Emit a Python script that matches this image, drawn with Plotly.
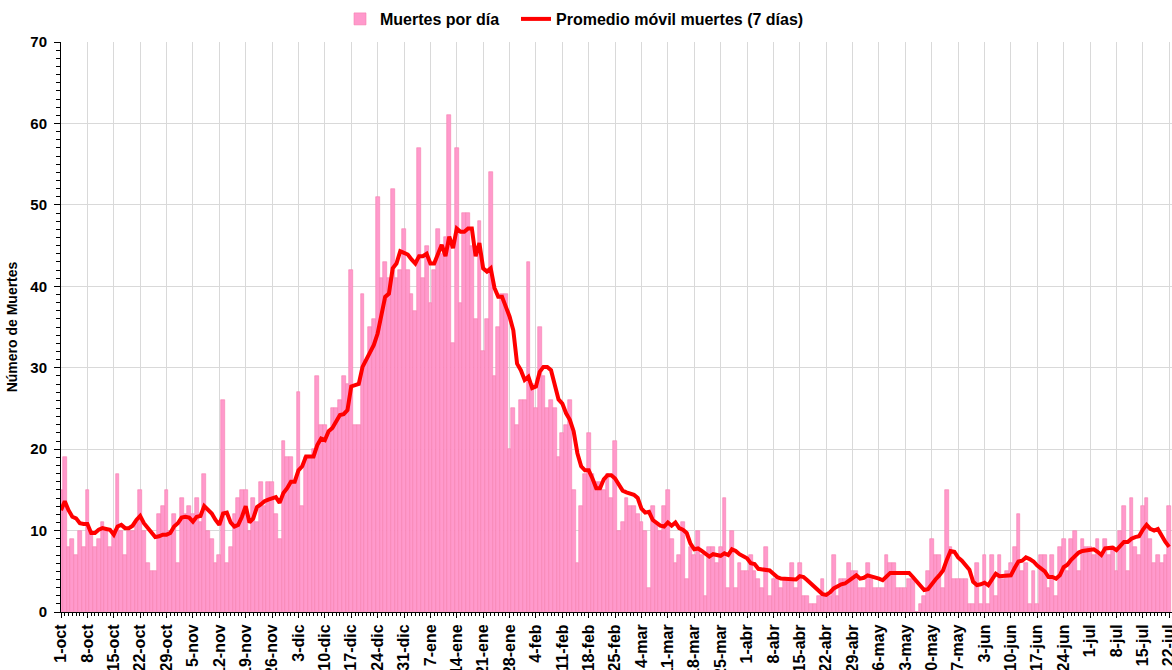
import pandas as pd
import plotly.graph_objects as go

start_date = "2020-10-01"

deaths_per_day = [
    15, 19, 8, 9, 7, 10, 8, 15, 10, 8,
    9, 11, 10, 8, 10, 17, 10, 7, 10, 10,
    11, 15, 10, 6, 5, 5, 12, 13, 15, 10,
    12, 6, 14, 12, 13, 12, 14, 11, 17, 10,
    9, 6, 7, 26, 6, 8, 12, 14, 15, 15,
    10, 14, 11, 16, 13, 16, 16, 12, 9, 21,
    19, 19, 16, 27, 13, 19, 19, 20, 29, 23,
    23, 22, 25, 25, 26, 29, 28, 42, 23, 23,
    39, 31, 35, 36, 51, 41, 43, 41, 52, 41,
    42, 47, 42, 39, 37, 57, 41, 45, 38, 42,
    47, 44, 46, 61, 33, 57, 38, 49, 49, 45,
    36, 48, 32, 36, 54, 29, 35, 39, 39, 20,
    25, 23, 26, 26, 43, 28, 25, 35, 29, 25,
    26, 25, 19, 22, 23, 26, 15, 6, 13, 17,
    22, 17, 16, 16, 15, 17, 14, 21, 10, 11,
    14, 13, 13, 12, 11, 10, 3, 13, 11, 10,
    13, 15, 9, 6, 7, 11, 4, 8, 7, 10,
    7, 2, 8, 8, 6, 8, 14, 3, 10, 3,
    6, 5, 5, 7, 5, 4, 3, 8, 2, 4,
    4, 3, 4, 4, 6, 3, 6, 2, 2, 1,
    1, 2, 4, 2, 2, 7, 2, 4, 4, 6,
    5, 5, 3, 3, 6, 4, 3, 3, 3, 7,
    6, 6, 3, 3, 3, 4, 4, 0, 1, 2,
    5, 9, 7, 7, 3, 15, 8, 4, 4, 4,
    4, 1, 1, 6, 1, 7, 1, 7, 2, 7,
    4, 5, 6, 8, 12, 5, 6, 1, 5, 1,
    7, 7, 3, 7, 2, 8, 9, 5, 9, 10,
    5, 9, 8, 8, 7, 9, 7, 9, 7, 8,
    5, 10, 13, 5, 14, 8, 7, 13, 14, 9,
    6, 7, 6, 7, 13,
]

moving_avg_7d = [
    12.5, 13.6, 12.5, 11.7, 11.5, 10.9, 10.8, 10.8, 9.7, 9.7,
    10.1, 10.3, 10.2, 10.1, 9.5, 10.5, 10.7, 10.3, 10.3, 10.6,
    11.3, 11.8, 10.9, 10.3, 9.9, 9.2, 9.3, 9.5, 9.5, 9.7,
    10.5, 10.9, 11.6, 11.7, 11.6, 11.1, 11.7, 11.8, 13.0, 12.6,
    12.1, 11.3, 10.7, 12.1, 12.2, 11.0, 10.5, 10.7, 11.7, 13.0,
    11.0, 11.5, 12.9, 13.2, 13.6, 13.8, 14.0, 14.1, 13.4, 14.6,
    15.2, 16.0, 16.0, 17.4, 17.9, 19.1, 19.1, 19.1, 20.5, 21.3,
    21.1, 22.2, 22.6, 23.4, 24.2, 24.3, 24.8, 27.7, 27.8, 28.0,
    30.1, 31.0, 31.8, 32.8, 34.2, 36.3, 38.7, 39.1, 42.2, 42.8,
    44.3, 44.1, 43.9, 43.3, 42.8, 43.7, 43.7, 44.0, 42.8, 42.8,
    44.0, 45.1, 43.7, 46.1, 44.7, 47.1, 46.7, 46.7, 47.1, 47.1,
    43.7, 45.3, 42.2, 41.8, 42.2, 39.8, 38.7, 38.7, 37.5, 36.3,
    34.6, 30.5, 29.7, 28.5, 28.9, 27.5, 27.7, 29.5, 30.1, 30.1,
    29.7, 27.7, 26.1, 25.6, 24.4, 23.6, 22.2, 19.5, 17.9, 17.4,
    17.4, 16.4, 15.2, 15.2, 16.3, 16.8, 16.8, 16.4, 15.6, 14.9,
    14.7, 14.6, 14.4, 14.0, 12.7, 12.2, 12.3, 11.3, 10.9, 10.6,
    10.5, 11.0, 10.6, 11.0, 10.3, 10.1, 9.7, 8.4, 7.7, 7.8,
    7.5, 7.2, 6.8, 7.1, 7.0, 6.9, 7.2, 7.0, 7.7, 7.5,
    7.1, 6.9, 6.6, 6.0, 5.9, 5.3, 5.2, 5.2, 5.1, 4.7,
    4.3, 4.1, 4.1, 4.1, 4.1, 4.0, 4.4, 4.3, 3.9, 3.5,
    3.0, 2.6, 2.2, 2.1, 2.4, 2.9, 3.2, 3.4, 3.5, 3.8,
    4.1, 4.5, 4.1, 4.2, 4.5, 4.4, 4.2, 4.1, 3.9, 4.4,
    4.8, 4.8, 4.8, 4.8, 4.8, 4.8, 4.3, 3.7, 3.3, 2.7,
    2.8, 3.5, 4.0, 4.5, 5.1, 6.4, 7.5, 7.4, 6.7, 6.3,
    5.8, 5.2, 3.7, 3.3, 3.4, 3.6, 3.3, 3.9, 4.7, 4.4,
    4.4, 4.5, 4.5, 5.4, 6.2, 6.3, 6.7, 6.5, 6.2, 5.7,
    5.4, 5.0, 4.3, 4.3, 4.1, 4.5, 5.5, 5.8, 6.4, 6.9,
    7.3, 7.5, 7.6, 7.7, 7.7, 7.4, 7.0, 7.8, 7.9, 7.9,
    7.6, 8.1, 8.6, 8.6, 9.0, 9.2, 9.3, 10.1, 10.7, 10.2,
    10.0, 10.2, 9.3, 8.6, 8.0,
]

tick_labels = [
    "1-oct", "8-oct", "15-oct", "22-oct", "29-oct", "5-nov", "12-nov", "19-nov",
    "26-nov", "3-dic", "10-dic", "17-dic", "24-dic", "31-dic", "7-ene", "14-ene",
    "21-ene", "28-ene", "4-feb", "11-feb", "18-feb", "25-feb", "4-mar", "11-mar",
    "18-mar", "25-mar", "1-abr", "8-abr", "15-abr", "22-abr", "29-abr", "6-may",
    "13-may", "20-may", "27-may", "3-jun", "10-jun", "17-jun", "24-jun", "1-jul",
    "8-jul", "15-jul", "22-jul",
]

dates = pd.date_range(start_date, periods=len(deaths_per_day), freq="D")
tick_dates = pd.date_range(start_date, periods=len(tick_labels), freq="7D")

FONT = "Liberation Sans, Arial, sans-serif"
legend_font = dict(family=FONT, size=16, color="black", weight="bold")

FIG_W, FIG_H = 1172, 670

fig = go.Figure()
fig.add_trace(go.Bar(
    x=dates, y=deaths_per_day, name="Muertes por día",
    marker=dict(color="#FF99CC", line=dict(color="#F77FAF", width=0.6)),
    legend="legend",
))
fig.add_trace(go.Scatter(
    x=dates, y=moving_avg_7d, name="Promedio móvil muertes (7 días)",
    mode="lines", line=dict(color="#FF0000", width=4),
    legend="legend2",
))

x_end = pd.Timestamp(start_date) + pd.Timedelta(days=294.75)

fig.update_layout(
    width=FIG_W, height=FIG_H,
    margin=dict(l=61, r=0, t=42, b=58),
    paper_bgcolor="white", plot_bgcolor="white",
    bargap=0,
    showlegend=True,
    legend=dict(
        orientation="h", xref="container", yref="container",
        x=340 / FIG_W, xanchor="left", y=1 - 19 / FIG_H, yanchor="middle",
        font=legend_font, bgcolor="rgba(0,0,0,0)",
    ),
    legend2=dict(
        orientation="h", xref="container", yref="container",
        x=516 / FIG_W, xanchor="left", y=1 - 19 / FIG_H, yanchor="middle",
        font=legend_font, bgcolor="rgba(0,0,0,0)",
    ),
    font=dict(family=FONT, color="black"),
)

fig.update_xaxes(
    range=[pd.Timestamp(start_date), x_end],
    automargin=False,
    tickvals=tick_dates, ticktext=tick_labels,
    tickangle=-90,
    ticklabeloverflow="allow",
    tickfont=dict(family=FONT, size=16, color="black", weight="bold"),
    showgrid=True, gridcolor="#D9D9D9", gridwidth=1,
    showline=True, linecolor="black", linewidth=1,
    ticks="outside", ticklen=5, tickcolor="black",
    minor=dict(dtick=86400000, ticks="outside", ticklen=3, tickcolor="black", showgrid=False),
    zeroline=False,
)
fig.update_yaxes(
    range=[0, 70], dtick=10,
    automargin=False,
    tickfont=dict(family=FONT, size=15, color="black", weight="bold"),
    ticklabelstandoff=4,
    title=dict(text="Número de Muertes", font=dict(family=FONT, size=14, color="black", weight="bold"), standoff=9),
    showgrid=True, gridcolor="#D9D9D9", gridwidth=1,
    showline=True, linecolor="black", linewidth=1,
    ticks="outside", ticklen=6, tickcolor="black",
    minor=dict(dtick=1, ticks="outside", ticklen=4, tickcolor="black", showgrid=False),
    zeroline=False,
)

fig.write_html(
    "out.html",
    config={"displayModeBar": False},
    post_script="document.body.style.margin='0';document.body.style.overflow='hidden';",
)
